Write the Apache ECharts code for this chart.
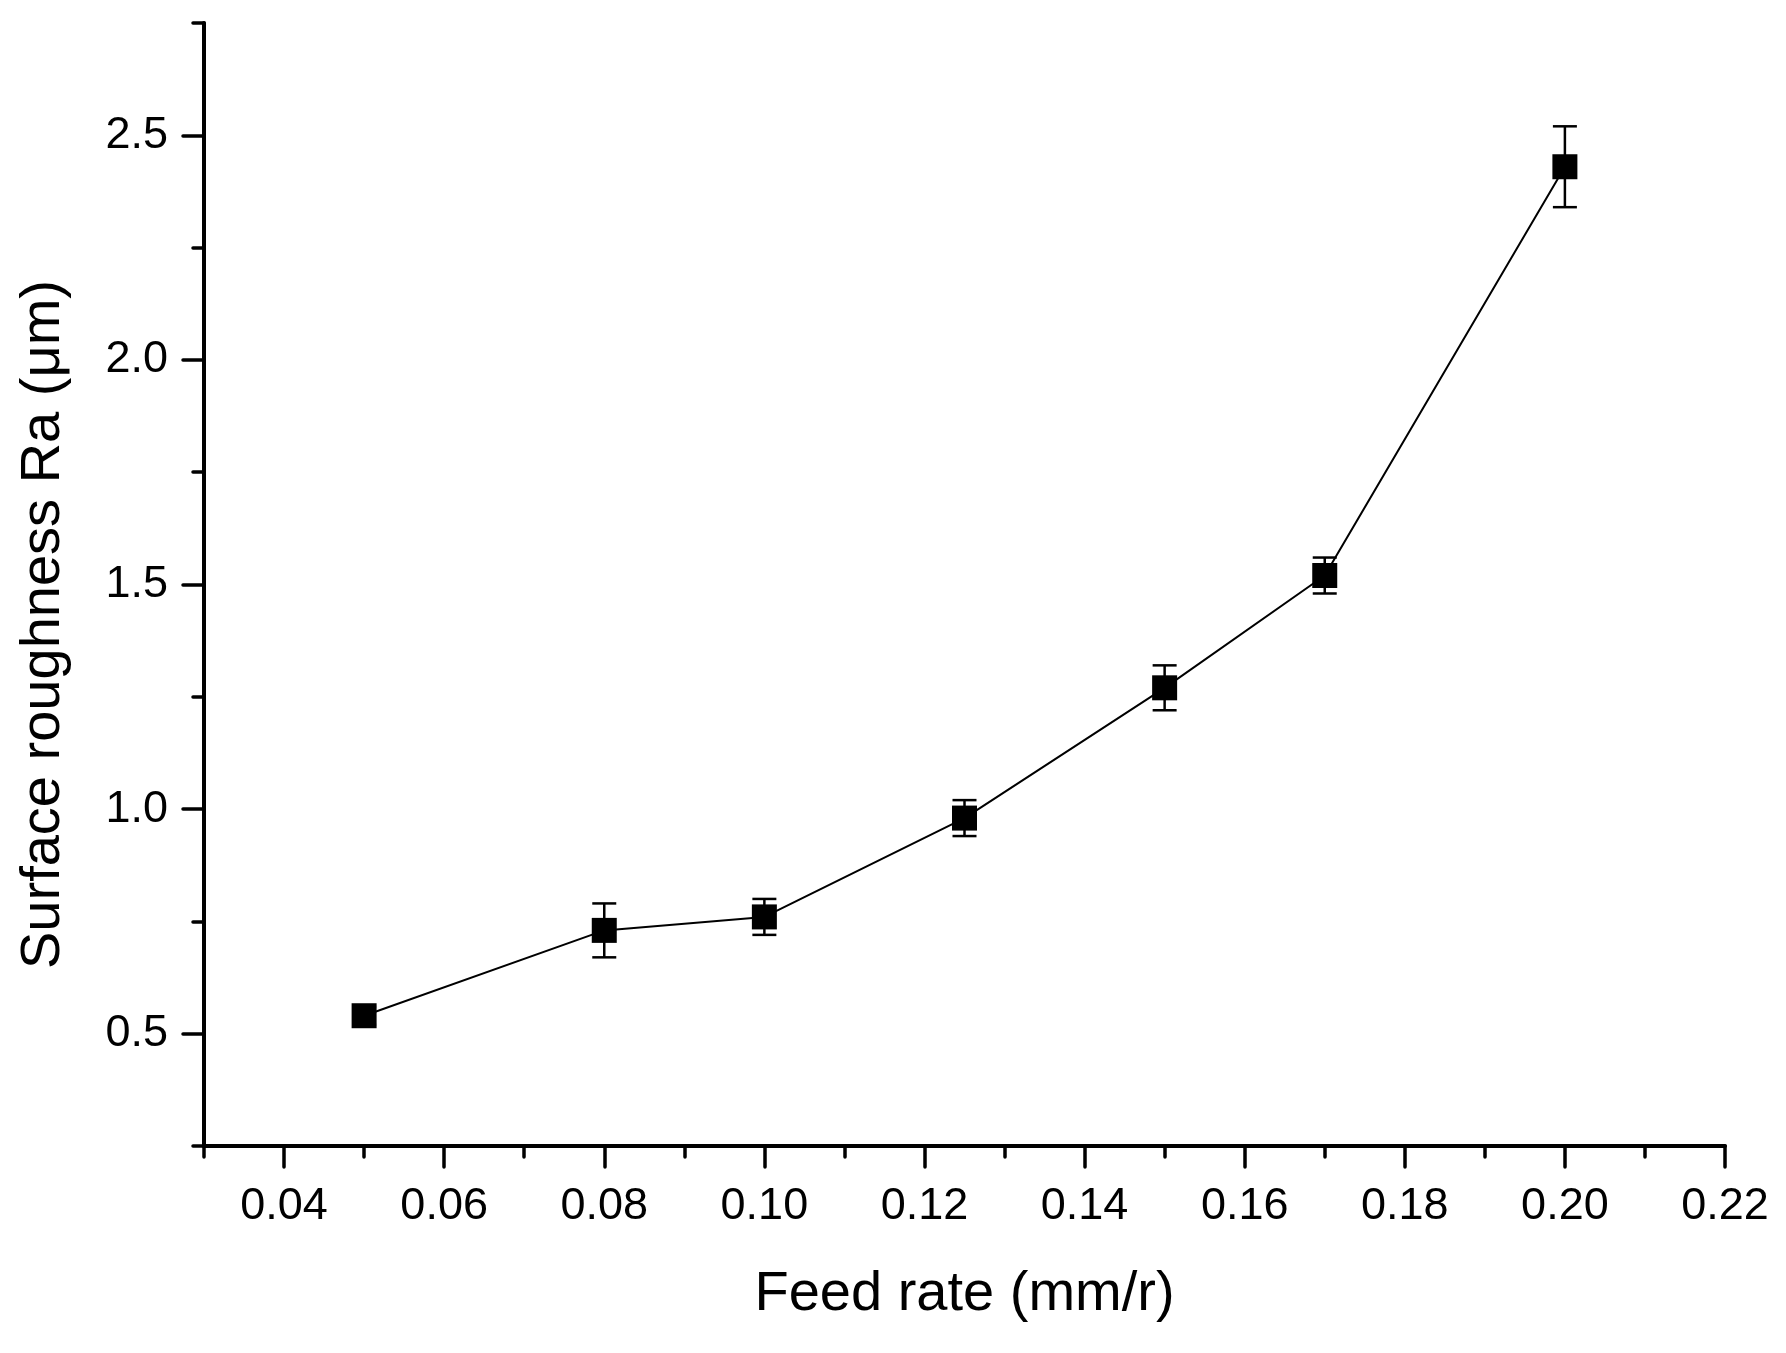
<!DOCTYPE html>
<html>
<head>
<meta charset="utf-8">
<script src="https://cdn.jsdelivr.net/npm/echarts@6/dist/echarts.min.js"></script>
<style>
html,body{margin:0;padding:0;background:#fff;}
#chart{width:1786px;height:1353px;}
</style>
</head>
<body>
<div id="chart"></div>
<script>
// Data
const feedRate = [0.05, 0.08, 0.10, 0.125, 0.15, 0.17, 0.20];
const roughness = [0.54, 0.73, 0.76, 0.98, 1.27, 1.52, 2.43];
const errorBar = [0.02, 0.06, 0.04, 0.04, 0.05, 0.04, 0.09];
const xMajorTicks = [0.04, 0.06, 0.08, 0.10, 0.12, 0.14, 0.16, 0.18, 0.20, 0.22];
const yMajorTicks = [0.5, 1.0, 1.5, 2.0, 2.5];
const xTitle = 'Feed rate (mm/r)';
const yTitle = 'Surface roughness Ra (μm)';

const font = '"Liberation Sans", Arial, sans-serif';
const lineData = feedRate.map((x, i) => [x, roughness[i]]);
const errData = feedRate.map((x, i) => [x, roughness[i] - errorBar[i], roughness[i] + errorBar[i]]);

const chart = echarts.init(document.getElementById('chart'), null, {renderer: 'canvas'});
const axisLineStyle = {color: '#000', width: 4, cap: 'round'};
const tickStyle = {color: '#000', width: 3.5, cap: 'round'};
chart.setOption({
  animation: false,
  backgroundColor: '#fff',
  grid: {left: 204, right: 61, top: 23, bottom: 207, containLabel: false},
  xAxis: [{
    type: 'value', min: 0.03, max: 0.22, interval: 0.01,
    name: xTitle, nameLocation: 'middle', nameGap: 121,
    nameTextStyle: {fontFamily: font, fontSize: 56, color: '#000'},
    axisLine: {show: true, onZero: false, lineStyle: axisLineStyle},
    axisTick: {show: true, length: 11, lineStyle: tickStyle},
    axisLabel: {show: false},
    splitLine: {show: false}
  }, {
    type: 'value', min: 0.03, max: 0.22, position: 'bottom',
    axisLine: {show: false},
    axisTick: {show: true, length: 21, customValues: xMajorTicks, lineStyle: tickStyle},
    axisLabel: {show: true, customValues: xMajorTicks, margin: 38, fontFamily: font, fontSize: 45, color: '#000',
      formatter: v => v.toFixed(2)},
    splitLine: {show: false}
  }],
  yAxis: [{
    type: 'value', min: 0.25, max: 2.75, interval: 0.25,
    name: yTitle, nameLocation: 'middle', nameGap: 132, nameRotate: 90,
    nameTextStyle: {fontFamily: font, fontSize: 56, color: '#000', padding: [0, 80, 0, 0]},
    axisLine: {show: true, onZero: false, lineStyle: axisLineStyle},
    axisTick: {show: true, length: 11, lineStyle: tickStyle},
    axisLabel: {show: false},
    splitLine: {show: false}
  }, {
    type: 'value', min: 0.25, max: 2.75, position: 'left',
    axisLine: {show: false},
    axisTick: {show: true, length: 21, customValues: yMajorTicks, lineStyle: tickStyle},
    axisLabel: {show: true, customValues: yMajorTicks, margin: 36, fontFamily: font, fontSize: 45, color: '#000',
      formatter: v => v.toFixed(1)},
    splitLine: {show: false}
  }],
  series: [{
    type: 'custom',
    xAxisIndex: 0, yAxisIndex: 0,
    data: errData,
    renderItem: function (params, api) {
      const x = api.value(0);
      const lo = api.coord([x, api.value(1)]);
      const hi = api.coord([x, api.value(2)]);
      const hw = 12;
      const style = {stroke: '#000', lineWidth: 2.5};
      return {type: 'group', children: [
        {type: 'line', shape: {x1: lo[0], y1: lo[1], x2: hi[0], y2: hi[1]}, style},
        {type: 'line', shape: {x1: lo[0] - hw, y1: lo[1], x2: lo[0] + hw, y2: lo[1]}, style},
        {type: 'line', shape: {x1: hi[0] - hw, y1: hi[1], x2: hi[0] + hw, y2: hi[1]}, style}
      ]};
    },
    z: 2
  }, {
    type: 'line',
    xAxisIndex: 0, yAxisIndex: 0,
    data: lineData,
    symbol: 'rect', symbolSize: 25,
    itemStyle: {color: '#000'},
    lineStyle: {color: '#000', width: 2},
    z: 3
  }]
});
</script>
</body>
</html>
